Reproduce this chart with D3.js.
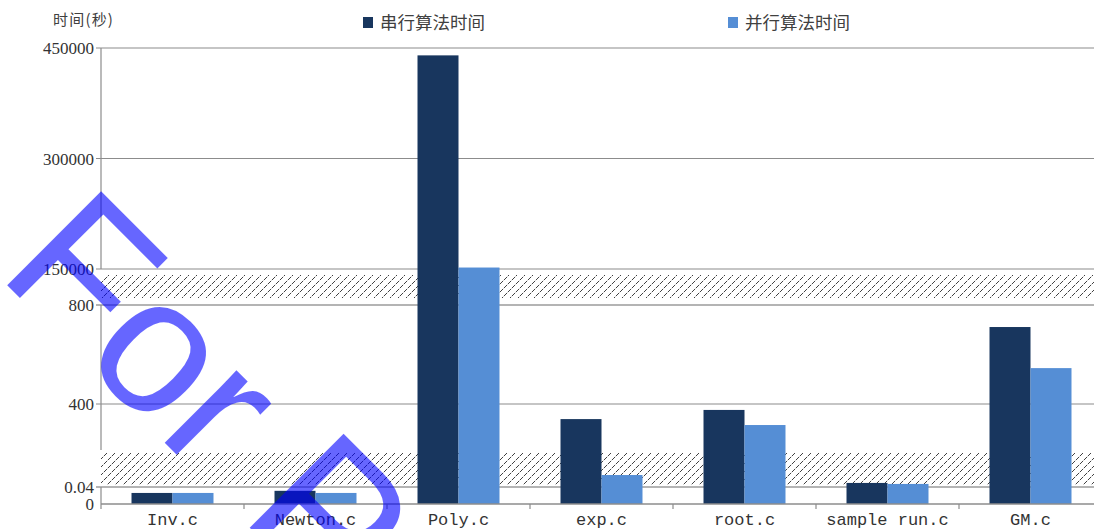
<!DOCTYPE html>
<html><head><meta charset="utf-8">
<script src="https://cdn.jsdelivr.net/npm/d3@7/dist/d3.min.js"></script>
<style>
html,body{margin:0;padding:0;background:#fff;}
svg{display:block;}
</style></head>
<body>
<svg id="chart" width="1094" height="529"></svg>
<script>
// ---- data ----
const categories = ["Inv.c", "Newton.c", "Poly.c", "exp.c", "root.c", "sample run.c", "GM.c"];
const seriesNames = ["串行算法时间", "并行算法时间"];
const serialTimes = [0.026, 0.031, 440000, 339, 376, 81, 711];
const parallelTimes = [0.026, 0.026, 152000, 113, 315, 77, 545];
const tickValues = [0, 0.04, 400, 800, 150000, 300000, 450000];
const tickLabels = ["0", "0.04", "400", "800", "150000", "300000", "450000"];
const yTitle = "时间(秒)";
const watermark = "For P";
const colors = ["#18365e", "#558ed5"];

// ---- layout ----
const left = 101, right = 1094;
const svg = d3.select("#chart");

// broken (piecewise) value scale: 0–0.04 | 64.6–800 | 150000–450000
const y = d3.scaleLinear()
  .domain([0, 0.04, 64.6, 800, 150000, 450000])
  .range([504, 487, 487, 305, 269, 48]);

const x = d3.scaleBand().domain(categories).range([left, left + 143 * categories.length]).paddingInner(0).paddingOuter(0);
const xSub = d3.scaleBand().domain(seriesNames).range([0, x.bandwidth()]).paddingInner(0).paddingOuter(0.744);

const rows = categories.map((c, i) => ({cat: c, values: [serialTimes[i], parallelTimes[i]]}));

// hatch pattern
const defs = svg.append("defs");
const pat = defs.append("pattern").attr("id", "hatch")
  .attr("patternUnits", "userSpaceOnUse").attr("width", 8).attr("height", 8);
pat.append("path").attr("d", "M0,8 L8,0")
  .attr("stroke", "#404040").attr("stroke-width", 1).attr("fill", "none")
  .attr("stroke-dasharray", "4.6 1.05");

// gridlines
const gridTicks = tickValues.filter(v => v !== 0);
svg.append("g").selectAll("line").data(gridTicks).join("line")
  .attr("x1", 96).attr("x2", right)
  .attr("y1", d => y(d)).attr("y2", d => y(d))
  .attr("stroke", d => (d === 800 || d === 0.04) ? "#b4b4b4" : "#8c8c8c")
  .attr("stroke-width", d => (d === 800 || d === 0.04) ? 2 : 1.2);

// hatch bands (axis breaks)
const bands = [[275, 298], [453, 485]];
svg.append("g").selectAll("rect").data(bands).join("rect")
  .attr("x", left).attr("width", right - left)
  .attr("y", d => d[0]).attr("height", d => d[1] - d[0])
  .attr("fill", "url(#hatch)");

// y axis segments
const axisSegs = [[y(450000), y(150000)], [y(800), 450], [y(0.04), y(0)]];
svg.append("g").selectAll("line").data(axisSegs).join("line")
  .attr("x1", left).attr("x2", left).attr("y1", d => d[0]).attr("y2", d => d[1])
  .attr("stroke", "#8c8c8c").attr("stroke-width", 1.2);

// bars
const groups = svg.append("g").selectAll("g").data(rows).join("g")
  .attr("transform", d => `translate(${x(d.cat)},0)`);
groups.selectAll("rect").data(d => d.values.map((v, i) => ({v, i}))).join("rect")
  .attr("x", d => xSub(seriesNames[d.i]))
  .attr("width", xSub.bandwidth())
  .attr("y", d => y(d.v))
  .attr("height", d => y(0) - y(d.v))
  .attr("fill", d => colors[d.i]);

// x axis
svg.append("line").attr("x1", left).attr("x2", right).attr("y1", y(0)).attr("y2", y(0))
  .attr("stroke", "#8c8c8c").attr("stroke-width", 1.5);
const xTickPos = d3.range(categories.length + 1).map(i => left + i * x.step());
svg.append("g").selectAll("line").data(xTickPos.filter(p => p <= right)).join("line")
  .attr("x1", d => d).attr("x2", d => d).attr("y1", y(0)).attr("y2", y(0) + 5)
  .attr("stroke", "#8c8c8c").attr("stroke-width", 1.2);

svg.append("g").selectAll("text").data(categories).join("text")
  .attr("x", d => x(d) + x.bandwidth() / 2).attr("y", 525)
  .attr("text-anchor", "middle")
  .attr("font-family", "'Liberation Mono', monospace").attr("font-size", 17)
  .attr("fill", "#333").text(d => d);

// y tick labels
svg.append("g").selectAll("text").data(tickValues).join("text")
  .attr("x", 94).attr("y", d => y(d) + 6)
  .attr("text-anchor", "end")
  .attr("font-family", "'Liberation Serif', serif").attr("font-size", 17)
  .attr("fill", "#333").text((d, i) => tickLabels[i]);

// y title
svg.append("text").attr("x", 53).attr("y", 25)
  .attr("font-family", "'Noto Sans CJK SC', sans-serif").attr("font-size", 15)
  .attr("letter-spacing", 1.2)
  .attr("fill", "#404040").text(yTitle);

// legend
const legendX = [363, 728];
const lg = svg.append("g").selectAll("g").data(seriesNames).join("g")
  .attr("transform", (d, i) => `translate(${legendX[i]},0)`);
lg.append("rect").attr("x", 0).attr("y", 17).attr("width", 10).attr("height", 11)
  .attr("fill", (d, i) => colors[i]);
lg.append("text").attr("x", 17).attr("y", 29)
  .attr("font-family", "'Noto Sans CJK SC', sans-serif").attr("font-size", 17.5)
  .attr("fill", "#404040").text(d => d);

// watermark (clipped by the page edge, as in the reference)
svg.append("text").attr("transform", "translate(-4,274) rotate(45)")
  .attr("font-family", "'Liberation Sans', Arial, sans-serif").attr("font-size", 193)
  .attr("fill", "rgba(0,0,255,0.6)").text(watermark);
</script>
</body></html>
